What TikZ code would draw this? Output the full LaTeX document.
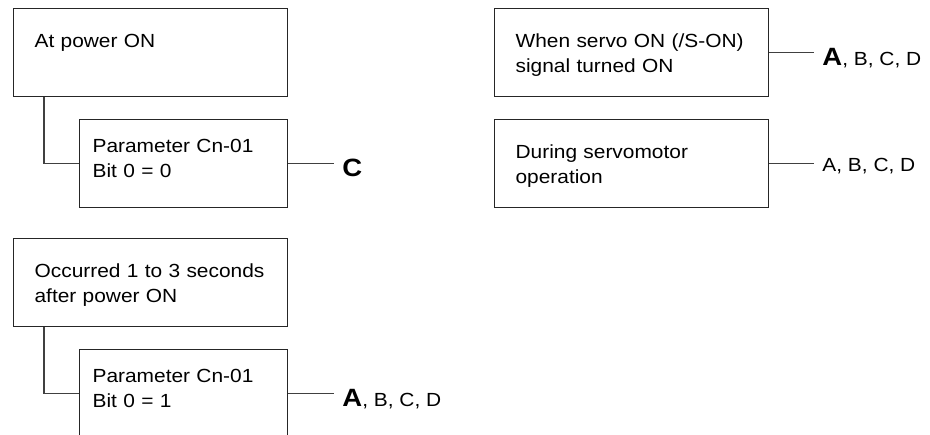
\documentclass[tikz,border=0pt]{standalone}
\usepackage{fontspec}
\setmainfont{Liberation Sans}[FakeStretch=1.1]
\usetikzlibrary{positioning, calc}
\newcommand{\bigltr}[1]{{\fontsize{25pt}{25pt}\selectfont\bfseries #1}}

\begin{document}
\begin{tikzpicture}[x=1pt, y=1pt,
    bigbox/.style={rectangle, draw=black!85, line width=1.2pt, anchor=north west,
                   text width=232pt, inner xsep=21pt, inner ysep=0pt,
                   text height=39pt, text depth=49pt, align=left,
                   font=\fontsize{19pt}{25pt}\selectfont},
    smallbox/.style={bigbox, text width=182pt, inner xsep=13pt,
                     text height=33pt, text depth=55pt},
    wire/.style={draw=black!75, line width=1.2pt},
    tag/.style={inner xsep=8pt, inner ysep=0pt, font=\fontsize{19pt}{25pt}\selectfont}
]
\clip (0,0) rectangle (930,-435);

% power ON, bit 0 = 0
\node[bigbox] (pwron) at (13,-8) {At power ON};
\node[smallbox, below right=22pt and 66pt of pwron.south west] (cn0) {Parameter Cn-01\\ Bit 0 = 0};
\node[tag, right=46pt of cn0.east, anchor=base west, yshift=-13pt] (tagC) {\bigltr{C}};

% 1 to 3 s after power ON, bit 0 = 1
\node[bigbox] (late) at (13,-238) {Occurred 1 to 3 seconds\\ after power ON};
\node[smallbox, below right=22pt and 66pt of late.south west] (cn1) {Parameter Cn-01\\ Bit 0 = 1};
\node[tag, right=46pt of cn1.east, anchor=base west, yshift=-13pt] (tagL) {\bigltr{A}, B, C, D};

% servo side
\node[bigbox] (srvon) at (494,-8) {When servo ON (/S-ON)\\ signal turned ON};
\node[tag, right=45pt of srvon.east, anchor=base west, yshift=-13pt] (tagS) {\bigltr{A}, B, C, D};
\node[bigbox, below=22pt of srvon] (run) {During servomotor\\ operation};
\node[tag, right=45pt of run.east, anchor=base west, yshift=-7.5pt] (tagR) {A, B, C, D};

\draw[wire] ($(pwron.south west)+(31pt,0)$) |- (cn0.west);
\draw[wire] ($(late.south west)+(31pt,0)$) |- (cn1.west);
\foreach \b/\t in {cn0/tagC, cn1/tagL, srvon/tagS, run/tagR}
    \draw[wire] (\b.east) -- (\b.east -| \t.west);
\end{tikzpicture}
\end{document}
